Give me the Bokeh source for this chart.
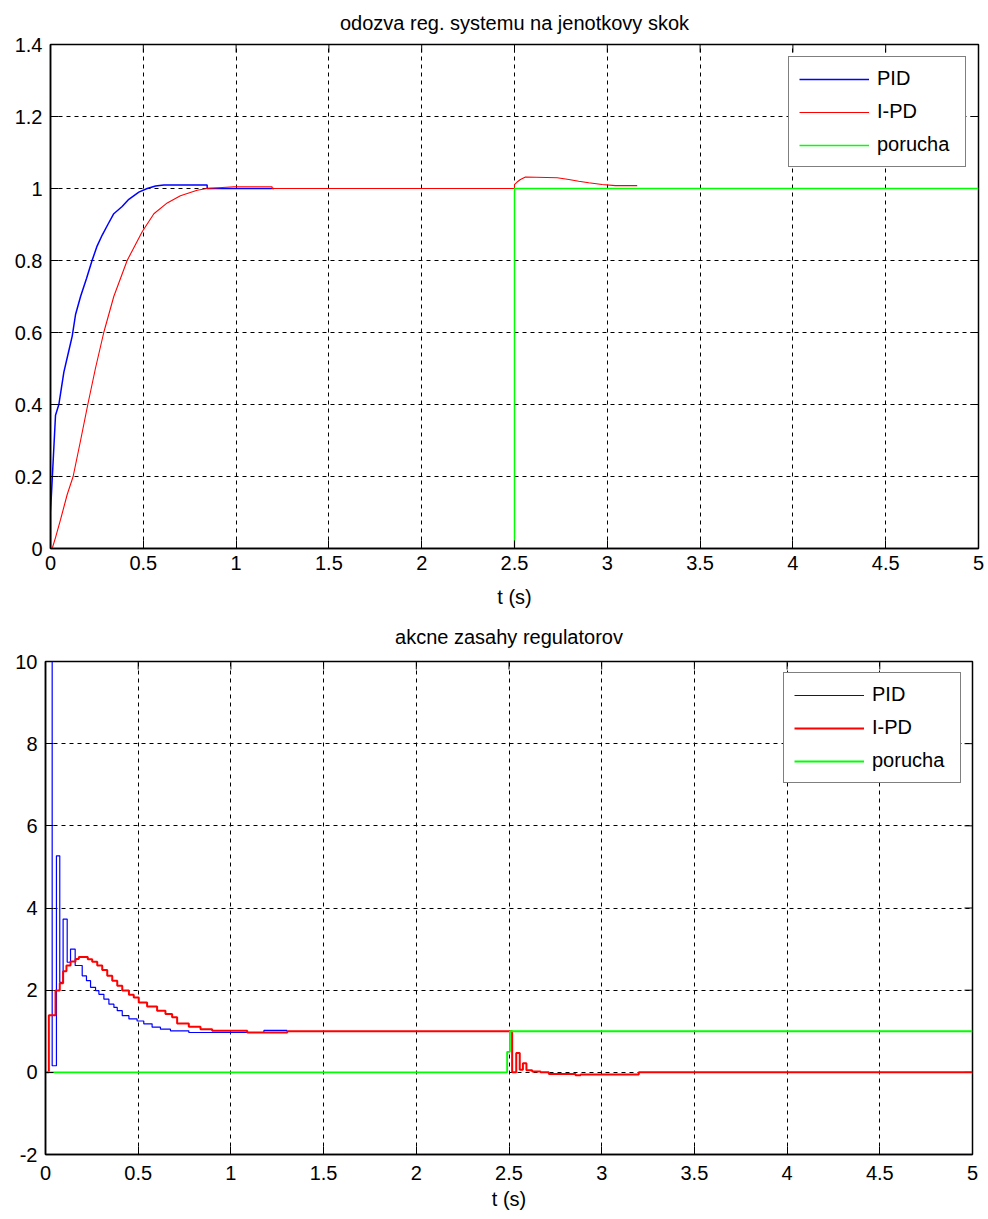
import math
from bokeh.plotting import figure
from bokeh.layouts import column
from bokeh.models import Range1d, FixedTicker, NumeralTickFormatter, Legend, LegendItem
from bokeh.embed import file_html
from bokeh.resources import INLINE

# ---------------- data ----------------
x_ticks = [0, 0.5, 1, 1.5, 2, 2.5, 3, 3.5, 4, 4.5, 5]
y1_ticks = [0, 0.2, 0.4, 0.6, 0.8, 1.0, 1.2, 1.4]
y2_ticks = [-2, 0, 2, 4, 6, 8, 10]

# top: step response
pid_y_t = [0, 0, 0.009, 0.018, 0.027, 0.045, 0.057, 0.072, 0.099, 0.117, 0.135, 0.162,
           0.194, 0.224, 0.251, 0.278, 0.309, 0.341, 0.386, 0.422, 0.476, 0.521, 0.566,
           0.611, 0.844, 0.844, 1.203]
pid_y_v = [0, 0.10, 0.19, 0.28, 0.37, 0.40, 0.44, 0.49, 0.55, 0.59, 0.65, 0.70,
           0.75, 0.80, 0.84, 0.87, 0.90, 0.93, 0.95, 0.97, 0.99, 1.0, 1.007,
           1.01, 1.01, 1.0, 1.0]

ipd_y_t = [0, 0.009, 0.027, 0.054, 0.090, 0.122, 0.162, 0.201, 0.242, 0.287, 0.341, 0.413,
           0.494, 0.557, 0.629, 0.700, 0.790, 0.844, 0.988, 1.194, 1.194, 2.5, 2.5, 2.514,
           2.532, 2.559, 2.730, 2.793, 2.846, 2.900, 2.972, 3.044, 3.161]
ipd_y_v = [0, 0, 0.03, 0.08, 0.15, 0.20, 0.30, 0.40, 0.50, 0.60, 0.70, 0.80,
           0.88, 0.93, 0.96, 0.98, 0.995, 1.0, 1.005, 1.005, 1.0, 1.0, 1.011, 1.018,
           1.025, 1.032, 1.030, 1.025, 1.020, 1.016, 1.011, 1.008, 1.008]

por_y_t = [0, 2.5, 2.5, 5]
por_y_v = [0, 0, 1, 1]

# bottom: controller outputs (stairs, value holds from each time)
pid_u_t = [0, 0.036, 0.059, 0.077, 0.095, 0.117, 0.135, 0.160, 0.198, 0.221, 0.243, 0.270,
           0.288, 0.315, 0.342, 0.369, 0.387, 0.414, 0.450, 0.494, 0.530, 0.575, 0.620,
           0.674, 0.773, 1.178, 1.304]
pid_u_v = [10, 0.16, 5.27, 2.19, 3.73, 2.68, 3.0, 2.6, 2.35, 2.23, 2.07, 1.99,
           1.9, 1.78, 1.66, 1.58, 1.5, 1.38, 1.3, 1.25, 1.18, 1.1, 1.05,
           1.01, 0.97, 1.02, 1.02]

ipd_u_t = [0, 0.018, 0.054, 0.077, 0.095, 0.113, 0.135, 0.162, 0.180, 0.228, 0.252, 0.279,
           0.306, 0.333, 0.360, 0.387, 0.414, 0.450, 0.476, 0.503, 0.548, 0.602, 0.647,
           0.683, 0.710, 0.773, 0.836, 0.899, 1.088, 1.304,
           2.517, 2.539, 2.558, 2.575, 2.594, 2.625, 2.670, 2.715, 2.859, 2.886, 3.200, 5.0]
ipd_u_v = [0, 1.39, 1.99, 2.17, 2.46, 2.6, 2.7, 2.76, 2.81, 2.75, 2.69, 2.6,
           2.49, 2.35, 2.23, 2.11, 1.99, 1.89, 1.82, 1.70, 1.6, 1.5, 1.42,
           1.34, 1.19, 1.11, 1.05, 1.01, 0.97, 1.0,
           0, 0.47, 0.06, 0.22, 0.05, 0.02, 0, -0.04, -0.07, -0.05, 0, 0]

por_u_t = [0, 2.49, 2.505, 5]
por_u_v = [0, 0.5, 1, 1]

FONT = "Liberation Sans"
FS = "20px"


def make_fig(height, ylo, yhi, yticks, title, top, bottom, left, right,
             title_valign, title_standoff, xlab_standoff, xaxlab_standoff):
    p = figure(width=988, height=height, output_backend="svg", toolbar_location=None,
               x_range=Range1d(0, 5), y_range=Range1d(ylo, yhi),
               min_border_top=top, min_border_bottom=bottom,
               min_border_left=left, min_border_right=right)
    p.frame_align = False
    p.background_fill_color = "white"
    p.border_fill_color = "white"
    p.outline_line_color = "black"
    p.outline_line_width = 1.5
    p.title.text = title
    p.title.align = "center"
    p.title.vertical_align = title_valign
    p.title.text_font = FONT
    p.title.text_font_size = FS
    p.title.text_font_style = "normal"
    p.title.text_color = "black"
    p.title.standoff = title_standoff

    p.xaxis.ticker = FixedTicker(ticks=x_ticks)
    p.yaxis.ticker = FixedTicker(ticks=yticks)
    p.xaxis.formatter = NumeralTickFormatter(format="0.[0]")
    p.yaxis.formatter = NumeralTickFormatter(format="0.[0]")
    p.xaxis.axis_label = "t (s)"
    for ax in (p.xaxis[0], p.yaxis[0]):
        ax.axis_line_color = "black"
        ax.axis_line_width = 1.5
        ax.major_tick_in = 8
        ax.major_tick_out = 0
        ax.major_tick_line_color = "black"
        ax.minor_tick_line_color = None
        ax.major_label_text_font = FONT
        ax.major_label_text_font_size = FS
        ax.major_label_text_color = "black"
        ax.axis_label_text_font = FONT
        ax.axis_label_text_font_size = FS
        ax.axis_label_text_font_style = "normal"
        ax.axis_label_text_color = "black"
    p.xaxis.major_label_standoff = xlab_standoff
    p.xaxis.axis_label_standoff = xaxlab_standoff
    p.yaxis.major_label_standoff = 8

    # inward tick marks on the top and right edges of the box (MATLAB style)
    p.ray(x=x_ticks, y=[yhi] * len(x_ticks), length=8, length_units="screen",
          angle=-math.pi / 2, line_color="black", line_width=1)
    p.ray(x=[5] * len(yticks), y=yticks, length=8, length_units="screen",
          angle=math.pi, line_color="black", line_width=1)

    p.xgrid.ticker = FixedTicker(ticks=x_ticks)
    p.ygrid.ticker = FixedTicker(ticks=yticks)
    for g in (p.xgrid[0], p.ygrid[0]):
        g.grid_line_color = "black"
        g.grid_line_dash = "4 4"
        g.grid_line_width = 1
        g.grid_line_alpha = 1.0
    return p


def add_legend(p, renderers, margin, pad):
    leg = Legend(items=[LegendItem(label="PID", renderers=[renderers[0]]),
                        LegendItem(label="I-PD", renderers=[renderers[1]]),
                        LegendItem(label="porucha", renderers=[renderers[2]])],
                 location="top_right")
    leg.margin = margin
    leg.padding = pad
    leg.spacing = 10
    leg.glyph_width = 70
    leg.glyph_height = 22
    leg.label_height = 22
    leg.label_width = 78
    leg.label_standoff = 8
    leg.label_text_font = FONT
    leg.label_text_font_size = FS
    leg.label_text_color = "black"
    leg.border_line_color = "black"
    leg.border_line_width = 1
    leg.background_fill_color = "white"
    leg.background_fill_alpha = 1.0
    p.add_layout(leg)


# ---------------- top plot ----------------
p1 = make_fig(613, 0, 1.4, y1_ticks, "odozva reg. systemu na jenotkovy skok",
              top=44, bottom=65, left=50, right=10,
              title_valign="top", title_standoff=18,
              xlab_standoff=7, xaxlab_standoff=13)
r1 = p1.line(pid_y_t, pid_y_v, line_color="#0000ff", line_width=1.5)
r2 = p1.line(ipd_y_t, ipd_y_v, line_color="#ff0000", line_width=1.1)
r3 = p1.line(por_y_t, por_y_v, line_color="#00ff00", line_width=1.5)
add_legend(p1, [r1, r2, r3], 12, 10)

# ---------------- bottom plot ----------------
p2 = make_fig(606, -2, 10, y2_ticks, "akcne zasahy regulatorov",
              top=48, bottom=65, left=45, right=16,
              title_valign="top", title_standoff=24,
              xlab_standoff=11, xaxlab_standoff=5)
s1 = p2.step(pid_u_t, pid_u_v, mode="after", line_color="#0000ff", line_width=1.2)
s2 = p2.step(ipd_u_t, ipd_u_v, mode="after", line_color="#ff0000", line_width=2)
s3 = p2.step(por_u_t, por_u_v, mode="after", line_color="#00ff00", line_width=1.8)
add_legend(p2, [s1, s2, s3], 11, 10)

layout = column(p1, p2, spacing=0)
open("out.html", "w").write(file_html(layout, INLINE))
